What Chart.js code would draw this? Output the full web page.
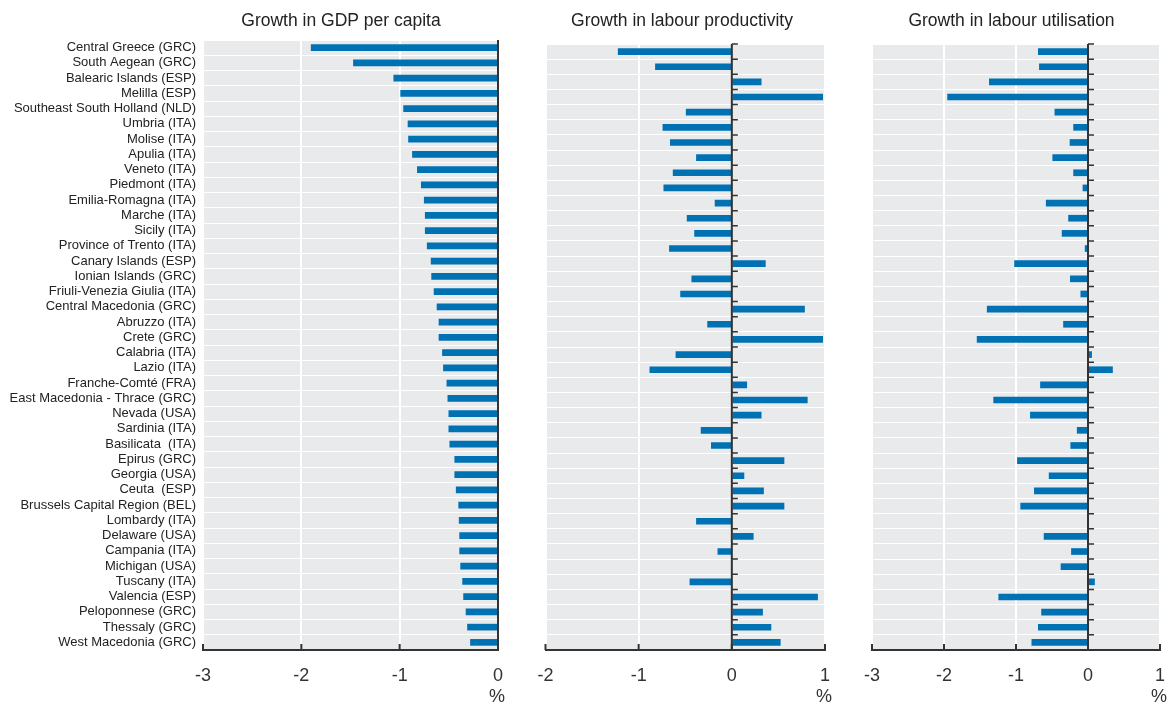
<!DOCTYPE html>
<html>
<head>
<meta charset="utf-8">
<title>Regional growth decomposition</title>
<script src="https://cdn.jsdelivr.net/npm/chart.js@4.4.1/dist/chart.umd.min.js"></script>
<style>
  html, body { margin: 0; padding: 0; background: #fff; }
  body { width: 1167px; height: 704px; position: relative; overflow: hidden; }
  .panel { position: absolute; top: 0; height: 704px; }
  .panel canvas { display: block; }
</style>
</head>
<body>
<div class="panel" id="p1" style="left:0;width:520px"><canvas id="c1"></canvas></div>
<div class="panel" id="p2" style="left:520px;width:330px"><canvas id="c2"></canvas></div>
<div class="panel" id="p3" style="left:850px;width:317px"><canvas id="c3"></canvas></div>
<script>
// Regions, ranked by growth in GDP per capita
const regions = [
  'Central Greece (GRC)', 'South Aegean (GRC)', 'Balearic Islands (ESP)', 'Melilla (ESP)',
  'Southeast South Holland (NLD)', 'Umbria (ITA)', 'Molise (ITA)', 'Apulia (ITA)',
  'Veneto (ITA)', 'Piedmont (ITA)', 'Emilia-Romagna (ITA)', 'Marche (ITA)',
  'Sicily (ITA)', 'Province of Trento (ITA)', 'Canary Islands (ESP)', 'Ionian Islands (GRC)',
  'Friuli-Venezia Giulia (ITA)', 'Central Macedonia (GRC)', 'Abruzzo (ITA)', 'Crete (GRC)',
  'Calabria (ITA)', 'Lazio (ITA)', 'Franche-Comté (FRA)', 'East Macedonia - Thrace (GRC)',
  'Nevada (USA)', 'Sardinia (ITA)', 'Basilicata  (ITA)', 'Epirus (GRC)',
  'Georgia (USA)', 'Ceuta  (ESP)', 'Brussels Capital Region (BEL)', 'Lombardy (ITA)',
  'Delaware (USA)', 'Campania (ITA)', 'Michigan (USA)', 'Tuscany (ITA)',
  'Valencia (ESP)', 'Peloponnese (GRC)', 'Thessaly (GRC)', 'West Macedonia (GRC)'
];

// Growth rates, %
const gdpPerCapita = [
  -1.90, -1.47, -1.06, -0.99, -0.96, -0.915, -0.91, -0.87, -0.82, -0.78,
  -0.75, -0.74, -0.74, -0.72, -0.68, -0.675, -0.65, -0.62, -0.60, -0.60,
  -0.565, -0.555, -0.52, -0.51, -0.50, -0.50, -0.49, -0.44, -0.44, -0.425,
  -0.40, -0.395, -0.39, -0.39, -0.38, -0.36, -0.35, -0.325, -0.31, -0.28
];
const labourProductivity = [
  -1.22, -0.82, 0.315, 0.975, -0.49, -0.74, -0.66, -0.38, -0.63, -0.73,
  -0.18, -0.48, -0.40, -0.67, 0.36, -0.43, -0.55, 0.78, -0.26, 0.975,
  -0.60, -0.88, 0.16, 0.81, 0.315, -0.33, -0.22, 0.56, 0.13, 0.34,
  0.56, -0.38, 0.23, -0.15, 0, -0.45, 0.92, 0.33, 0.42, 0.52
];
const labourUtilisation = [
  -0.69, -0.675, -1.37, -1.95, -0.46, -0.20, -0.25, -0.49, -0.20, -0.07,
  -0.58, -0.27, -0.36, -0.04, -1.02, -0.245, -0.10, -1.40, -0.34, -1.54,
  0.05, 0.34, -0.66, -1.31, -0.80, -0.15, -0.24, -0.98, -0.54, -0.745,
  -0.935, 0, -0.61, -0.23, -0.375, 0.09, -1.24, -0.645, -0.69, -0.78
];

// Axis ranges (tick labels every 1 percentage point)
const gdpRange = [-3, 0];
const productivityRange = [-2, 1];
const utilisationRange = [-3, 1];

const FONT = '"Liberation Sans", Arial, Helvetica, sans-serif';
const INK = '#333333';
const BAR = '#0071b3';
const PANEL_BG = '#e9eaec';

// Grey plot background, zero line with category ticks, inward axis ticks and unit label
const panelDecor = {
  id: 'panelDecor',
  afterLayout(chart, args, opts) {
    // centre the panel heading on a chosen x position
    const tb = chart.titleBlock;
    if (tb && opts.titleCenter != null) {
      const half = (tb.right - tb.left) / 2;
      tb.left = opts.titleCenter - half;
      tb.right = opts.titleCenter + half;
    }
  },
  beforeDraw(chart) {
    const a = chart.chartArea, ctx = chart.ctx;
    ctx.save();
    ctx.fillStyle = PANEL_BG;
    ctx.fillRect(a.left, a.top, a.right - a.left, a.bottom - a.top);
    ctx.restore();
  },
  afterDatasetsDraw(chart, args, opts) {
    const a = chart.chartArea, ctx = chart.ctx;
    const xs = chart.scales.x, ys = chart.scales.y;
    const x0 = xs.getPixelForValue(0);
    ctx.save();
    ctx.strokeStyle = INK;
    ctx.lineWidth = 2;
    ctx.beginPath();
    ctx.moveTo(x0, a.top);
    ctx.lineTo(x0, a.bottom);
    ctx.stroke();
    if (opts.zeroTicks) {
      const step = ys.getPixelForValue(1) - ys.getPixelForValue(0);
      ctx.lineWidth = 1.5;
      ctx.beginPath();
      for (let i = 0; i < regions.length; i++) {
        const y = ys.getPixelForValue(i) - step / 2;
        ctx.moveTo(x0, y);
        ctx.lineTo(x0 + 6, y);
      }
      ctx.stroke();
    }
    ctx.lineWidth = 2;
    ctx.beginPath();
    xs.ticks.forEach(t => {
      const x = xs.getPixelForValue(t.value);
      ctx.moveTo(x, a.bottom);
      ctx.lineTo(x, a.bottom - 6);
    });
    ctx.stroke();
    ctx.fillStyle = INK;
    ctx.font = '18px ' + FONT;
    ctx.textAlign = 'center';
    ctx.textBaseline = 'alphabetic';
    ctx.fillText('%', xs.right - 1, 702);
    ctx.restore();
  }
};

function makePanel(canvasId, cfg) {
  return new Chart(document.getElementById(canvasId), {
    type: 'bar',
    data: {
      labels: regions,
      datasets: [{
        data: cfg.values,
        backgroundColor: BAR,
        borderWidth: 0,
        barThickness: 6
      }]
    },
    options: {
      indexAxis: 'y',
      responsive: true,
      maintainAspectRatio: false,
      animation: false,
      devicePixelRatio: 1,
      layout: { padding: { left: cfg.padLeft, right: cfg.padRight, top: 0, bottom: 0 } },
      plugins: {
        legend: { display: false },
        tooltip: { enabled: false },
        title: {
          display: true,
          text: cfg.title,
          color: '#222222',
          font: { family: FONT, size: 17.5, weight: 'normal', lineHeight: '20px' },
          padding: { top: 11, bottom: cfg.titleGap },
          fullSize: true
        },
        panelDecor: { zeroTicks: cfg.zeroTicks, titleCenter: cfg.titleCenter }
      },
      scales: {
        x: {
          type: 'linear',
          min: cfg.range[0],
          max: cfg.range[1],
          ticks: { stepSize: 1, color: INK, font: { family: FONT, size: 18 }, padding: 1 },
          grid: {
            color: c => (c.tick && c.tick.value === 0) ? 'rgba(0,0,0,0)' : '#ffffff',
            lineWidth: 2,
            drawTicks: true,
            tickLength: 14,
            tickColor: 'rgba(0,0,0,0)'
          },
          border: { display: true, color: INK, width: 2 },
          afterFit: s => { s.height = 54; }
        },
        y: {
          type: 'category',
          offset: true,
          ticks: {
            display: cfg.showLabels,
            color: '#222222',
            font: { family: FONT, size: 13 },
            padding: 7,
            autoSkip: false
          },
          grid: { color: '#ffffff', lineWidth: 1, offset: true, drawTicks: false },
          border: { display: false },
          afterFit: s => { s.width = cfg.axisWidth; }
        }
      }
    },
    plugins: [panelDecor]
  });
}

makePanel('c1', {
  title: 'Growth in GDP per capita', values: gdpPerCapita, range: gdpRange,
  padLeft: 0, padRight: 22, axisWidth: 203, titleGap: 9, showLabels: true,
  zeroTicks: false, titleCenter: 341
});
makePanel('c2', {
  title: 'Growth in labour productivity', values: labourProductivity, range: productivityRange,
  padLeft: 25.5, padRight: 25, axisWidth: 0, titleGap: 13, showLabels: false,
  zeroTicks: true, titleCenter: 162
});
makePanel('c3', {
  title: 'Growth in labour utilisation', values: labourUtilisation, range: utilisationRange,
  padLeft: 22, padRight: 7, axisWidth: 0, titleGap: 13, showLabels: false,
  zeroTicks: true, titleCenter: 161.5
});
</script>
</body>
</html>
